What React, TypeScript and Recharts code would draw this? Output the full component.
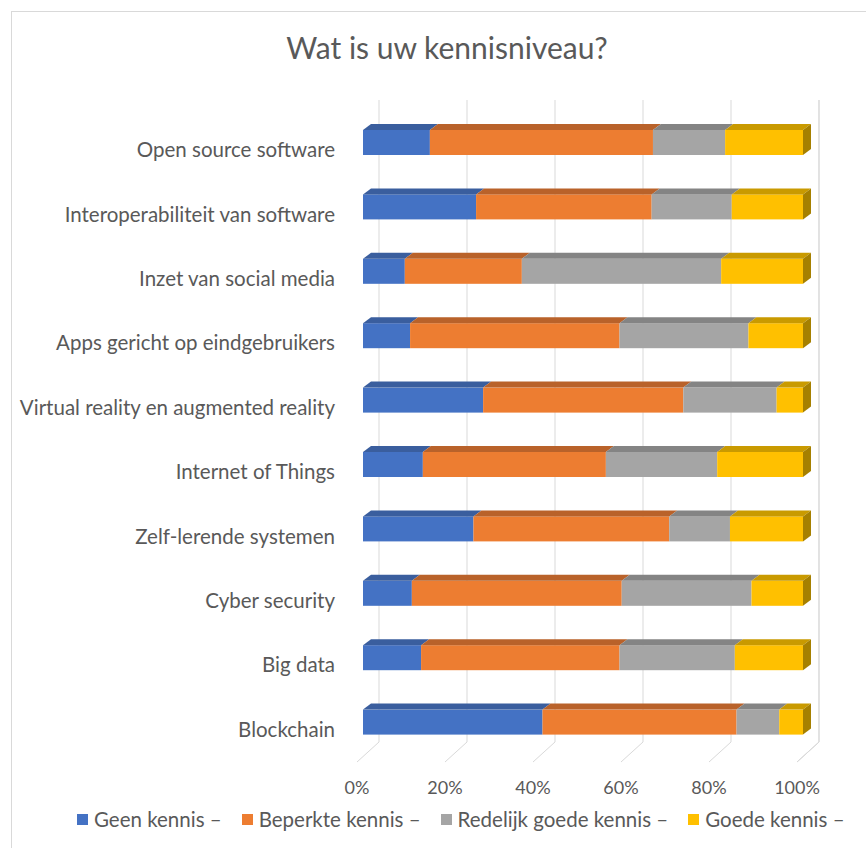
import React from 'react';
import { BarChart, Bar, XAxis, YAxis, CartesianGrid, Legend } from 'recharts';

const categories = [
  'Open source software',
  'Interoperabiliteit van software',
  'Inzet van social media',
  'Apps gericht op eindgebruikers',
  'Virtual reality en augmented reality',
  'Internet of Things',
  'Zelf-lerende systemen',
  'Cyber security',
  'Big data',
  'Blockchain',
];

const geenKennis = [15.2, 25.7, 9.5, 10.7, 27.3, 13.6, 25.1, 11.1, 13.2, 40.8];
const beperkteKennis = [50.7, 39.9, 26.6, 47.6, 45.5, 41.6, 44.5, 47.7, 45.1, 44.1];
const redelijkGoedeKennis = [16.4, 18.2, 45.3, 29.3, 21.2, 25.3, 13.8, 29.5, 26.2, 9.7];
const goedeKennis = [17.7, 16.2, 18.6, 12.4, 6.0, 19.5, 16.6, 11.7, 15.5, 5.4];

const xTicks = [0, 20, 40, 60, 80, 100];

const seriesNames = ['Geen kennis –', 'Beperkte kennis –', 'Redelijk goede kennis –', 'Goede kennis –'];
const seriesColors = ['#4472C4', '#ED7D31', '#A5A5A5', '#FFC000'];
const topColors = ['#3A5E9E', '#B9622A', '#848484', '#C99A00'];
const sideColor = '#A68000';

const data = categories.map((name, i) => ({
  name,
  s0: geenKennis[i],
  s1: beperkteKennis[i],
  s2: redelijkGoedeKennis[i],
  s3: goedeKennis[i],
}));

const FONT = 'Lato, "Open Sans", sans-serif';
const TEXT = '#595959';
const DX = 8;
const DY = 6;

const make3D = (top: string, last: boolean) => (props: any) => {
  const { x, y, width, height, fill } = props;
  if (width == null || height == null) return <g />;
  return (
    <g>
      <rect x={x} y={y} width={width} height={height} fill={fill} />
      <polygon
        points={`${x},${y} ${x + DX},${y - DY} ${x + width + DX},${y - DY} ${x + width},${y}`}
        fill={top}
      />
      {last && (
        <polygon
          points={`${x + width},${y} ${x + width + DX},${y - DY} ${x + width + DX},${y + height - DY} ${x + width},${y + height}`}
          fill={sideColor}
        />
      )}
    </g>
  );
};

const gridLine = (props: any) => {
  const { x1, y1, y2, index } = props;
  return (
    <g key={`g-${index}-${x1}`}>
      <line x1={x1 + 16} y1={y1 - 10} x2={x1 + 16} y2={y2 - 12} stroke="#D9D9D9" strokeWidth={1} />
      <line x1={x1 + 16} y1={y2 - 12} x2={x1 - 6} y2={y2 + 8} stroke="#D9D9D9" strokeWidth={1} />
    </g>
  );
};

const YTick = (props: any) => {
  const { x, y, payload } = props;
  return (
    <text x={x - 20} y={y + 7} textAnchor="end" dominantBaseline="central" fill={TEXT} fontSize={20.5} fontFamily={FONT}>
      {payload.value}
    </text>
  );
};

const XTick = (props: any) => {
  const { x, y, payload } = props;
  return (
    <text x={x - 6} y={y + 25} textAnchor="middle" dominantBaseline="central" fill={TEXT} fontSize={18} fontFamily={FONT}>
      {`${payload.value}%`}
    </text>
  );
};

const LegendContent = () => (
  <div style={{ display: 'flex', alignItems: 'center', height: 30, paddingLeft: 77, fontFamily: FONT, fontSize: 20.5, color: TEXT, whiteSpace: 'nowrap' }}>
    {seriesNames.map((n, i) => (
      <div key={n} style={{ display: 'flex', alignItems: 'center', marginRight: 20 }}>
        <span style={{ display: 'inline-block', width: 11, height: 11, background: seriesColors[i], marginRight: 6 }} />
        <span>{n}</span>
      </div>
    ))}
  </div>
);

export default function App() {
  return (
    <div style={{ position: 'absolute', left: 0, top: 0, width: 866, height: 848, overflow: 'hidden', background: '#fff' }}>
      <div style={{ position: 'absolute', left: 11, top: 11, right: -5, bottom: -5, border: '1px solid #D9D9D9' }} />
      <div style={{ position: 'absolute', left: 0, width: 894, top: 29, textAlign: 'center', fontFamily: FONT, fontSize: 30, color: TEXT, lineHeight: '36px' }}>
        Wat is uw kennisniveau?
      </div>
      <div style={{ position: 'absolute', left: 0, top: 0 }}>
        <BarChart
          width={866}
          height={848}
          data={data}
          layout="vertical"
          margin={{ top: 110, right: 63, bottom: 34, left: 0 }}
          barSize={25}
        >
          <CartesianGrid horizontal={false} vertical={gridLine} />
          <XAxis type="number" domain={[0, 100]} ticks={xTicks} axisLine={false} tickLine={false} tick={<XTick />} height={30} interval={0} />
          <YAxis type="category" dataKey="name" width={363} axisLine={false} tickLine={false} tick={<YTick />} interval={0} />
          <Legend verticalAlign="bottom" content={<LegendContent />} wrapperStyle={{ left: 0, width: 866, bottom: 14 }} />
          <Bar dataKey="s0" name={seriesNames[0]} stackId="a" fill={seriesColors[0]} shape={make3D(topColors[0], false)} isAnimationActive={false} />
          <Bar dataKey="s1" name={seriesNames[1]} stackId="a" fill={seriesColors[1]} shape={make3D(topColors[1], false)} isAnimationActive={false} />
          <Bar dataKey="s2" name={seriesNames[2]} stackId="a" fill={seriesColors[2]} shape={make3D(topColors[2], false)} isAnimationActive={false} />
          <Bar dataKey="s3" name={seriesNames[3]} stackId="a" fill={seriesColors[3]} shape={make3D(topColors[3], true)} isAnimationActive={false} />
        </BarChart>
      </div>
    </div>
  );
}
